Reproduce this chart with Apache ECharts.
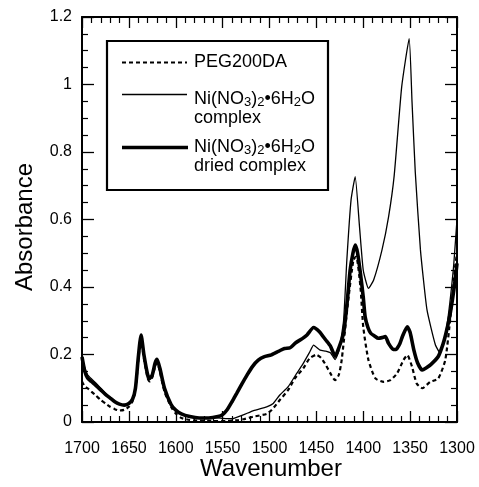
<!DOCTYPE html>
<html><head><meta charset="utf-8">
<script src="https://cdn.jsdelivr.net/npm/echarts@6/dist/echarts.min.js"></script>
<style>html,body{margin:0;padding:0;background:#fff}#c{width:479px;height:487px}</style>
</head><body><div id="c"></div>
<script>
// Wavenumber (cm-1) and absorbance values
const wnPeg = [1700,1697,1694,1690,1685,1680,1675,1670,1665,1660,1655,1650,1646,1643,1640,1637,1634,1630,1628,1625,1622,1620,1617,1612,1605,1600,1594,1585,1575,1560,1545,1535,1528,1517,1503,1497.5,1489,1480,1473,1464,1457,1450,1445,1441,1435,1430,1426,1423,1416,1410.5,1407.5,1403,1400,1394.5,1387,1378,1371,1364,1357,1353,1348,1343,1337,1328.5,1320,1312.5,1307,1302,1300];
const absPeg = [0.12,0.105,0.1,0.09,0.078,0.065,0.055,0.045,0.038,0.034,0.036,0.045,0.062,0.095,0.18,0.245,0.19,0.13,0.12,0.132,0.165,0.176,0.15,0.09,0.045,0.025,0.012,0.006,0.004,0.003,0.003,0.005,0.008,0.016,0.024,0.036,0.065,0.095,0.129,0.159,0.189,0.199,0.19,0.174,0.144,0.124,0.14,0.184,0.361,0.48,0.49,0.40,0.282,0.184,0.129,0.119,0.124,0.144,0.184,0.198,0.164,0.114,0.10,0.119,0.129,0.184,0.312,0.46,0.5];

const wnCplx = [1700,1697,1694,1690,1685,1680,1675,1670,1665,1660,1655,1650,1646,1643,1640,1637,1634,1630,1628,1625,1622,1620,1617,1612,1605,1600,1594,1585,1575,1565,1555,1545,1538,1528,1517,1503,1496,1489,1480,1471,1465,1457,1453,1446,1440,1435,1430,1426,1421,1417.5,1413,1408.6,1404,1400,1394.5,1389,1380,1373,1367,1359,1351,1348,1344.5,1339,1332,1323,1318,1311,1304,1300];
const absCplx = [0.195,0.16,0.14,0.128,0.115,0.1,0.085,0.072,0.061,0.054,0.051,0.056,0.068,0.1,0.19,0.255,0.2,0.14,0.13,0.14,0.172,0.184,0.16,0.1,0.052,0.035,0.024,0.016,0.012,0.012,0.012,0.01,0.011,0.021,0.034,0.045,0.055,0.08,0.105,0.144,0.169,0.208,0.228,0.213,0.21,0.205,0.185,0.21,0.3,0.48,0.658,0.727,0.579,0.45,0.396,0.42,0.51,0.608,0.73,0.993,1.136,0.95,0.74,0.51,0.332,0.228,0.204,0.282,0.45,0.6];

const wnDried = [1700,1697,1694,1690,1685,1680,1675,1670,1665,1660,1655,1650,1646,1643,1640,1637,1634,1630,1628,1625,1622,1620,1617,1612,1605,1600,1594,1585,1575,1565,1555,1550,1545,1540,1535,1530,1524,1518,1512,1506,1498,1490,1484,1478,1472,1465,1460,1453,1447,1440,1435,1430,1426,1421,1417,1414,1411,1408.5,1406,1403,1400,1398,1395,1392,1388,1384,1380,1376.5,1373,1368,1365,1361,1358,1353,1350,1346,1342,1337,1333,1328,1320,1315,1312,1308,1305,1302,1300];
const absDried = [0.193,0.15,0.13,0.12,0.108,0.095,0.082,0.071,0.06,0.053,0.05,0.055,0.068,0.1,0.19,0.258,0.2,0.14,0.128,0.14,0.175,0.186,0.16,0.1,0.052,0.035,0.024,0.016,0.012,0.012,0.016,0.022,0.037,0.06,0.085,0.11,0.139,0.165,0.183,0.193,0.199,0.21,0.218,0.22,0.235,0.247,0.258,0.28,0.268,0.243,0.225,0.195,0.22,0.263,0.36,0.45,0.5,0.524,0.5,0.44,0.37,0.312,0.28,0.263,0.255,0.248,0.25,0.253,0.233,0.215,0.215,0.232,0.255,0.282,0.265,0.213,0.175,0.154,0.16,0.17,0.194,0.23,0.26,0.31,0.36,0.42,0.47];

const xMin = 1300, xMax = 1700, xStep = 50;
const yMin = 0, yMax = 1.2, yStep = 0.2;
const xTitle = 'Wavenumber';
const yTitle = 'Absorbance';
const legendPeg = 'PEG200DA';
const legendCplx = '{a|Ni(NO}{s|3}{a|)}{s|2}{a|•6H}{s|2}{a|O}\n{a|complex}';
const legendDried = '{a|Ni(NO}{s|3}{a|)}{s|2}{a|•6H}{s|2}{a|O}\n{a|dried complex}';

const FONT = '"Liberation Sans", Arial, Helvetica, sans-serif';
const zip = (a, b) => a.map((v, i) => [v, b[i]]);

const xCommon = {
  type: 'value', min: xMin, max: xMax, interval: xStep, inverse: true,
  axisLine: { show: true, onZero: false, lineStyle: { color: '#000', width: 2 } },
  axisTick: { show: true, inside: true, length: 11, lineStyle: { color: '#000', width: 1.3 } },
  minorTick: { show: true, splitNumber: 5, length: 6, lineStyle: { color: '#000', width: 1.2 } },
  splitLine: { show: false }, minorSplitLine: { show: false }
};
const yCommon = {
  type: 'value', min: yMin, max: yMax, interval: yStep,
  axisLine: { show: true, onZero: false, lineStyle: { color: '#000', width: 2 } },
  axisTick: { show: true, inside: true, length: 12, lineStyle: { color: '#000', width: 1.3 } },
  minorTick: { show: true, splitNumber: 4, length: 6, lineStyle: { color: '#000', width: 1.2 } },
  splitLine: { show: false }, minorSplitLine: { show: false }
};

const rich = {
  a: { fontSize: 18, fontFamily: FONT, color: '#000', lineHeight: 19, verticalAlign: 'middle' },
  s: { fontSize: 13, fontFamily: FONT, color: '#000', lineHeight: 5, verticalAlign: 'bottom' }
};

const chart = echarts.init(document.getElementById('c'), null, { renderer: 'canvas' });
chart.setOption({
  animation: false,
  backgroundColor: '#fff',
  grid: { left: 82, right: 22, top: 17, bottom: 65, containLabel: false },
  xAxis: [
    Object.assign({}, xCommon, { position: 'bottom',
      axisLabel: { show: true, margin: 19, color: '#000', fontSize: 16, fontFamily: FONT,
        formatter: v => String(v) } }),
    Object.assign({}, xCommon, { position: 'top', axisLabel: { show: false } })
  ],
  yAxis: [
    Object.assign({}, yCommon, { position: 'left',
      axisLabel: { show: true, margin: 10, color: '#000', fontSize: 16, fontFamily: FONT } }),
    Object.assign({}, yCommon, { position: 'right', axisLabel: { show: false } })
  ],
  series: [
    { type: 'line', name: 'PEG200DA', data: zip(wnPeg, absPeg), showSymbol: false, smooth: 0.2,
      lineStyle: { color: '#000', width: 2.2, type: [4, 3] }, z: 3 },
    { type: 'line', name: 'complex', data: zip(wnCplx, absCplx), showSymbol: false, smooth: 0.15,
      lineStyle: { color: '#000', width: 1.3 }, z: 4 },
    { type: 'line', name: 'dried complex', data: zip(wnDried, absDried), showSymbol: false, smooth: 0.2,
      lineStyle: { color: '#000', width: 3.6 }, z: 5 }
  ],
  graphic: [
    { type: 'text', x: 271, y: 469, style: { text: xTitle, font: '24px ' + FONT, fill: '#000', align: 'center', verticalAlign: 'middle' } },
    { type: 'text', x: 25, y: 227, rotation: Math.PI / 2, style: { text: yTitle, font: '24px ' + FONT, fill: '#000', align: 'center', verticalAlign: 'middle' } },
    { type: 'rect', shape: { x: 107, y: 41, width: 221, height: 149 }, style: { fill: '#fff', stroke: '#000', lineWidth: 2.2 }, z: 10 },
    { type: 'line', shape: { x1: 122, y1: 62.5, x2: 187, y2: 62.5 }, style: { stroke: '#000', lineWidth: 2.2, lineDash: [4, 3] }, z: 11 },
    { type: 'line', shape: { x1: 122, y1: 94.5, x2: 187, y2: 94.5 }, style: { stroke: '#000', lineWidth: 1.3 }, z: 11 },
    { type: 'line', shape: { x1: 122, y1: 147.5, x2: 188, y2: 147.5 }, style: { stroke: '#000', lineWidth: 3.6 }, z: 11 },
    { type: 'text', x: 194, y: 62, z: 11, style: { text: legendPeg, font: '18px ' + FONT, fill: '#000', align: 'left', verticalAlign: 'middle' } },
    { type: 'text', x: 194, y: 90, z: 11, style: { text: legendCplx, rich: rich, font: '18px ' + FONT, fill: '#000', align: 'left', verticalAlign: 'top' } },
    { type: 'text', x: 194, y: 138, z: 11, style: { text: legendDried, rich: rich, font: '18px ' + FONT, fill: '#000', align: 'left', verticalAlign: 'top' } }
  ]
});
</script>
</body></html>
